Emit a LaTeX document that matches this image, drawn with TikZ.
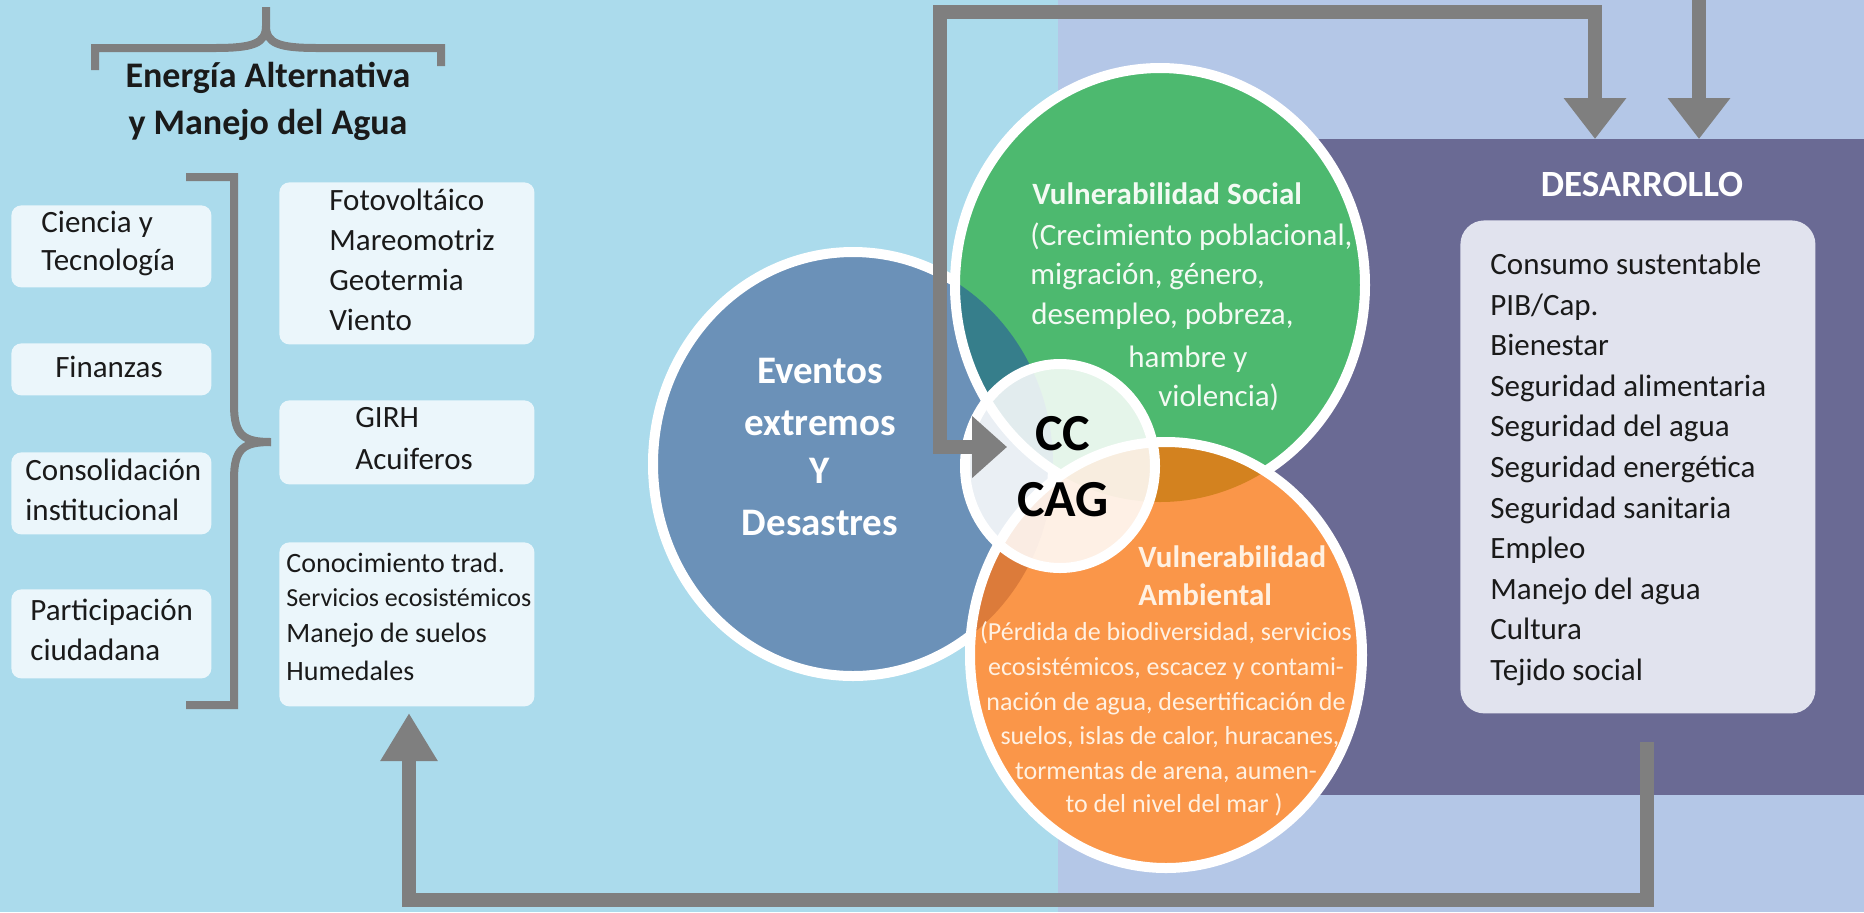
\documentclass[tikz,border=0pt]{standalone}
\usepackage{fontspec}
\setmainfont{Carlito}
\usetikzlibrary{arrows.meta}
\definecolor{bgL}{HTML}{ABDBEC}
\definecolor{bgR}{HTML}{B4C7E7}
\definecolor{purp}{HTML}{6A6A94}
\definecolor{boxL}{HTML}{EBF6FB}
\definecolor{boxD}{HTML}{E1E3EE}
\definecolor{gline}{HTML}{7F7F7F}
\definecolor{cblue}{HTML}{6B91B8}
\definecolor{cgreen}{HTML}{4DB96F}
\definecolor{corange}{HTML}{FA9649}
\definecolor{cteal}{HTML}{367E8B}
\definecolor{cdkor}{HTML}{D3821F}
\definecolor{cblor}{HTML}{DC7B3A}
\definecolor{tdark}{HTML}{1A1A1A}
\definecolor{tcream}{HTML}{FFF1E2}
\definecolor{tgreen}{HTML}{F3FAF3}
\begin{document}
\begin{tikzpicture}[x=0.5pt,y=-0.5pt,
  conn/.style={draw=gline, line width=7pt},
  bracepath/.style={draw=gline, line width=4pt},
  lbox/.style={fill=boxL, rounded corners=5pt, inner sep=0pt, anchor=north west},
  dboxst/.style={fill=boxD, rounded corners=12pt, inner sep=0pt, anchor=north west},
  fb/.style={font=\fontsize{15.5}{19}\selectfont, text=tdark, inner sep=0pt, text height=11pt, text depth=3.5pt},
  fc/.style={font=\fontsize{14}{17}\selectfont, text=tdark, inner sep=0pt, text height=10pt, text depth=3pt},
  fs/.style={font=\fontsize{13}{16}\selectfont, text=tdark, inner sep=0pt, text height=9pt, text depth=3pt},
  ftitle/.style={font=\fontsize{18}{22}\selectfont\bfseries, text=tdark, inner sep=0pt, text height=13pt, text depth=4pt},
  fblue/.style={font=\fontsize{19.5}{24}\selectfont\bfseries, text=white, inner sep=0pt, text height=14pt, text depth=4pt},
  fgreen/.style={font=\fontsize{15.5}{19}\selectfont, text=tgreen, inner sep=0pt, text height=11pt, text depth=3.5pt, anchor=west},
  forange/.style={font=\fontsize{13}{16}\selectfont, text=tcream, inner sep=0pt, text height=9pt, text depth=3pt},
  forangeb/.style={font=\fontsize{15.5}{19}\selectfont\bfseries, text=tcream, inner sep=0pt, text height=11pt, text depth=3.5pt, anchor=west},
  fcc/.style={font=\fontsize{26}{30}\selectfont\bfseries, text=black, inner sep=0pt, text height=18pt, text depth=0pt},
  fdes/.style={font=\fontsize{18.5}{22}\selectfont\bfseries, text=white, inner sep=0pt, text height=13pt, text depth=0pt}
]
\useasboundingbox (0,0) rectangle (1864,912);
% backgrounds
\fill[bgL] (0,0) rectangle (1058,912);
\fill[bgR] (1058,0) rectangle (1864,912);
\fill[purp] (1240,139) rectangle (1864,795);

% DESARROLLO box
\node[dboxst, minimum width=177.5pt, minimum height=246.5pt] (dbox) at (1460,220) {};
\node[fdes] (dtitle) at (1642,183) {DESARROLLO};
\foreach \t [count=\i from 0] in {Consumo sustentable, PIB/Cap., Bienestar, Seguridad alimentaria, Seguridad del agua, Seguridad energética, Seguridad sanitaria, Empleo, Manejo del agua, Cultura, Tejido social}
  \node[fb, anchor=west] (ditem\i) at (1490,{267+40.6*\i}) {\t};

% top brace and title
\draw[bracepath] (95,70) -- (95,48) -- (214,48) .. controls (252,48) and (266,44) .. (266,26) -- (266,7);
\draw[bracepath] (266,26) .. controls (266,44) and (280,48) .. (318,48) -- (441,48) -- (441,66);
\node[ftitle] (title1) at (268,78) {Energía Alternativa};
\node[ftitle] (title2) at (268,125) {y Manejo del Agua};

% left boxes
\node[lbox, minimum width=100pt, minimum height=41pt] (ciencia) at (11,205) {};
\node[lbox, minimum width=100pt, minimum height=26pt] (finanzas) at (11,343) {};
\node[lbox, minimum width=100pt, minimum height=41pt] (consol) at (11,452) {};
\node[lbox, minimum width=100pt, minimum height=44.5pt] (partic) at (11,589) {};
\node[fb, anchor=west] (l1a) at (41,225) {Ciencia y};
\node[fb, anchor=west] (l1b) at (41,263) {Tecnología};
\node[fb] (l2) at (109,370) {Finanzas};
\node[fb, anchor=west] (l3a) at (25,473) {Consolidación};
\node[fb, anchor=west] (l3b) at (25,513) {institucional};
\node[fb, anchor=west] (l4a) at (30,613) {Participación};
\node[fb, anchor=west] (l4b) at (30,653) {ciudadana};

% left brace
\draw[bracepath] (186,177) -- (234,177) -- (234,405) .. controls (234,436) and (244,442) .. (271,442);
\draw[bracepath] (271,442) .. controls (244,442) and (234,448) .. (234,479) -- (234,705) -- (186,705);

% middle boxes
\node[lbox, minimum width=127.5pt, minimum height=81pt] (boxA) at (279,182) {};
\node[lbox, minimum width=127.5pt, minimum height=42pt] (boxB) at (279,400) {};
\node[lbox, minimum width=127.5pt, minimum height=82pt] (boxC) at (279,542) {};
\node[fb, anchor=west] (a1) at (329,203) {Fotovoltáico};
\node[fb, anchor=west] (a2) at (329,243) {Mareomotriz};
\node[fb, anchor=west] (a3) at (329,283) {Geotermia};
\node[fb, anchor=west] (a4) at (329,323) {Viento};
\node[fb, anchor=west] (b1) at (355,420) {GIRH};
\node[fb, anchor=west] (b2) at (355,462) {Acuiferos};
\node[fc, anchor=west] (c1) at (286,565) {Conocimiento trad.};
\node[fs, anchor=west] (c2) at (286,600) {Servicios ecosistémicos};
\node[fc, anchor=west] (c3) at (286,635) {Manejo de suelos};
\node[fc, anchor=west] (c4) at (286,673) {Humedales};

% circles
\coordinate (cB) at (853,464);
\coordinate (cG) at (1160,285);
\coordinate (cO) at (1166,655);
\coordinate (cC) at (1060,466);
\fill[cblue] (cB) ellipse [x radius=100pt, y radius=106pt];
\draw[white, line width=5pt] (cB) ellipse [x radius=100pt, y radius=106pt];
\fill[cgreen] (cG) ellipse [x radius=102.5pt, y radius=108.5pt];
\begin{scope}
  \clip (cG) ellipse [x radius=102.5pt, y radius=108.5pt];
  \fill[cteal] (cB) ellipse [x radius=100pt, y radius=106pt];
\end{scope}
\draw[white, line width=5pt] (cG) ellipse [x radius=102.5pt, y radius=108.5pt];
\fill[corange] (cO) ellipse [x radius=98pt, y radius=106.5pt];
\begin{scope}
  \clip (cO) ellipse [x radius=98pt, y radius=106.5pt];
  \fill[cdkor] (cG) ellipse [x radius=102.5pt, y radius=108.5pt];
  \fill[cblor] (cB) ellipse [x radius=100pt, y radius=106pt];
\end{scope}
\draw[white, line width=5pt] (cO) ellipse [x radius=98pt, y radius=106.5pt];
\fill[white, fill opacity=0.86] (cC) ellipse [x radius=47.5pt, y radius=51pt];
\draw[white, line width=5pt] (cC) ellipse [x radius=47.5pt, y radius=51pt];

% circle texts
\node[fblue] (e1) at (820,373) {Eventos};
\node[fblue] (e2) at (820,425) {extremos};
\node[fblue] (e3) at (820,473) {Y};
\node[fblue] (e4) at (820,525) {Desastres};

\node[fgreen] (g0) at (1032,197) {\bfseries Vulnerabilidad Social};
\node[fgreen] (g1) at (1030,238) {(Crecimiento poblacional,};
\node[fgreen] (g2) at (1030,277) {migración, género,};
\node[fgreen] (g3) at (1031,317) {desempleo, pobreza,};
\node[fgreen] (g4) at (1128,360) {hambre y};
\node[fgreen] (g5) at (1158,399) {violencia)};

\node[forangeb] (o0) at (1138,560) {Vulnerabilidad};
\node[forangeb] (o1) at (1138,598) {Ambiental};
\node[forange] (o2) at (1166,634) {(Pérdida de biodiversidad, servicios};
\node[forange] (o3) at (1166,669) {ecosistémicos, escacez y contami-};
\node[forange] (o4) at (1166,704) {nación de agua, desertificación de};
\node[forange] (o5) at (1170,738) {suelos, islas de calor, huracanes,};
\node[forange] (o6) at (1166,773) {tormentas de arena, aumen-};
\node[forange] (o7) at (1174,806) {to del nivel del mar )};

\node[fcc] (cc1) at (1063,432) {CC};
\node[fcc] (cc2) at (1063,498) {CAG};

% connectors
\coordinate (ccin) at (1007,447);
\coordinate (bendA) at (940,12);
\coordinate (d1) at (1595,139);
\coordinate (topsrc) at (1699,0);
\coordinate (d2) at (1699,139);
\coordinate (dout) at (1647,742);
\coordinate (bendB) at (409,900);
\coordinate (cin) at (409,713);
\draw[conn, {Triangle[width=30pt,length=17.5pt]}-{Triangle[width=30pt,length=20.5pt]}] (ccin) -| (bendA) -| (d1);
\draw[conn, -{Triangle[width=30pt,length=20.5pt]}] (topsrc) -- (d2);
\draw[conn, -{Triangle[width=27pt,length=24pt]}] (dout) |- (bendB) -- (cin);
\end{tikzpicture}
\end{document}
